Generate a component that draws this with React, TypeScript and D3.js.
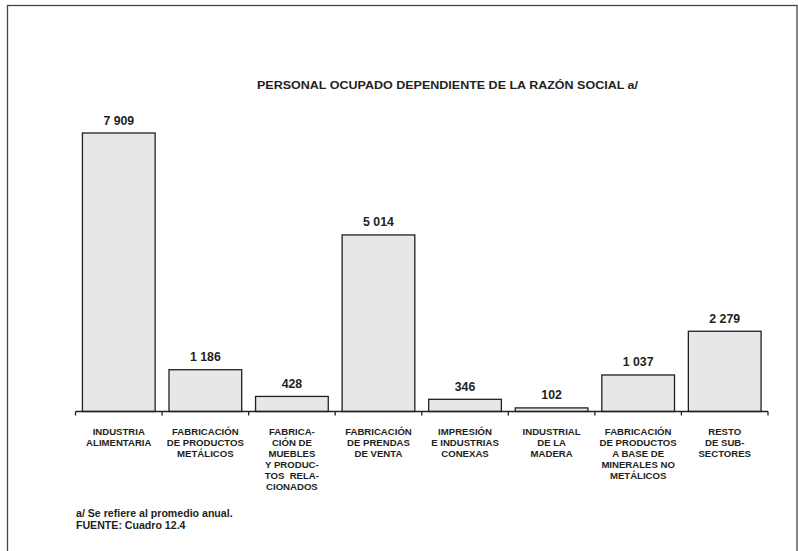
import * as d3 from 'd3';
import React from 'react';

const categories: string[][] = [
    ['INDUSTRIA', 'ALIMENTARIA'],
    ['FABRICACIÓN', 'DE PRODUCTOS', 'METÁLICOS'],
    ['FABRICA-', 'CIÓN DE', 'MUEBLES', 'Y PRODUC-', 'TOS  RELA-', 'CIONADOS'],
    ['FABRICACIÓN', 'DE PRENDAS', 'DE VENTA'],
    ['IMPRESIÓN', 'E INDUSTRIAS', 'CONEXAS'],
    ['INDUSTRIAL', 'DE LA', 'MADERA'],
    ['FABRICACIÓN', 'DE PRODUCTOS', 'A BASE DE', 'MINERALES NO', 'METÁLICOS'],
    ['RESTO', 'DE SUB-', 'SECTORES'],
];
const values: number[] = [7909, 1186, 428, 5014, 346, 102, 1037, 2279];
const valueLabels: string[] = ['7 909', '1 186', '428', '5 014', '346', '102', '1 037', '2 279'];

const title = 'PERSONAL OCUPADO DEPENDIENTE DE LA RAZÓN SOCIAL a/';
const notes = ['a/ Se refiere al promedio anual.', 'FUENTE: Cuadro 12.4'];

const W = 798;
const H = 551;
const font = '"Liberation Sans", Arial, sans-serif';
const ink = '#231f20';

export default function App() {
    const x0 = 75.5;
    const x1 = 768;
    const baseY = 411.5;

    // one band per category, bars sit inside with small gaps
    const x = d3
        .scaleBand<number>()
        .domain(d3.range(values.length))
        .range([x0, x1])
        .paddingInner(0.16)
        .paddingOuter(0.08);

    const y = d3.scaleLinear().domain([0, 7909]).range([baseY, 133]);

    const ticks = d3.range(values.length + 1).map((i) => x0 + i * ((x1 - x0) / values.length));

    return (
        <svg
            width={W}
            height={H}
            style={{ position: 'absolute', left: 0, top: 0, background: '#fff' }}
            fontFamily={font}
        >
            <rect x={7.5} y={5.5} width={789.5} height={600} fill="none" stroke="#444" strokeWidth={1.3} />
            <text
                x={447.5}
                y={89}
                textAnchor="middle"
                fontSize={11.6}
                fontWeight="bold"
                fill={ink}
                textLength={381}
                lengthAdjust="spacingAndGlyphs"
            >
                {title}
            </text>

            {values.map((v, i) => {
                const bx = x(i)!;
                const bw = x.bandwidth();
                return (
                    <g key={i}>
                        <rect
                            x={bx}
                            y={y(v)}
                            width={bw}
                            height={baseY - y(v)}
                            fill="#e6e7e8"
                            stroke={ink}
                            strokeWidth={1.3}
                        />
                        <text
                            x={bx + bw / 2}
                            y={y(v) - 8.5}
                            textAnchor="middle"
                            fontSize={12.3}
                            fontWeight="bold"
                            fill={ink}
                        >
                            {valueLabels[i]}
                        </text>
                        {categories[i].map((line, j) => (
                            <text
                                key={j}
                                x={bx + bw / 2}
                                y={435 + j * 11}
                                textAnchor="middle"
                                fontSize={9.6}
                                fontWeight="bold"
                                fill={ink}
                                style={{ whiteSpace: 'pre' }}
                            >
                                {line}
                            </text>
                        ))}
                    </g>
                );
            })}

            <line x1={x0} x2={x1} y1={baseY} y2={baseY} stroke={ink} strokeWidth={1.3} />
            {ticks.map((t, i) => (
                <line key={i} x1={t} x2={t} y1={baseY} y2={baseY + 4} stroke={ink} strokeWidth={1.3} />
            ))}

            {notes.map((n, i) => (
                <text key={i} x={76} y={517 + i * 12} fontSize={10.6} fontWeight="bold" fill={ink}>
                    {n}
                </text>
            ))}
        </svg>
    );
}
